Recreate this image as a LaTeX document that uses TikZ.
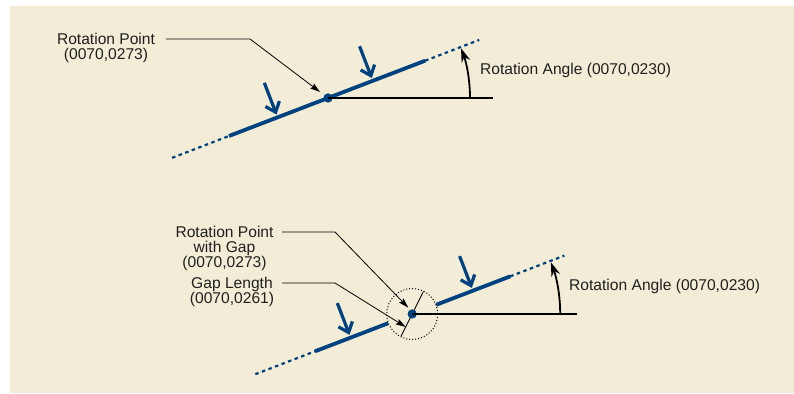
\documentclass[tikz,border=0pt]{standalone}
\usepackage{fontspec}
\setmainfont{Liberation Sans}
\usetikzlibrary{arrows.meta,calc}
\definecolor{bgcream}{RGB}{243,237,215}
\definecolor{beamblue}{RGB}{0,66,127}
\begin{document}
\begin{tikzpicture}[x=1pt,y=1pt,
  lbl/.style={inner sep=0pt,font=\fontsize{15.6}{15}\selectfont,align=center,text=black!88},
  beam/.style={draw=beamblue,line width=3.8pt},
  beamext/.style={draw=beamblue,line width=2.2pt,dash pattern=on 3.5pt off 3.5pt},
  load/.style={draw=beamblue,line width=3.2pt,-{Straight Barb[length=9pt,width=15pt,line width=3.2pt]}},
  leader/.style={draw=black,line width=0.8pt,-{Stealth[length=10pt,width=6pt,inset=1.5pt]}},
  refline/.style={draw=black,line width=1.3pt},
  anglearc/.style={draw=black,line width=1.8pt,-{Stealth[length=14pt,width=9pt]}},
  pivot/.style={circle,fill=beamblue,inner sep=0pt,minimum size=9pt},
  gapcircle/.style={draw=black,line width=1pt,dotted}]
\useasboundingbox (0,0) rectangle (794,393);
\fill[white] (0,0) rectangle (794,393);
\fill[bgcream] (10,0) rectangle (794,387);

% ---------- top diagram ----------
\node[pivot] (d1) at (328,295) {};
\coordinate (a1s) at ($(d1.center)+(201:167)$);
\coordinate (a1a) at ($(d1.center)+(201:106)$);
\coordinate (a1b) at ($(d1.center)+(21:104)$);
\coordinate (a1e) at ($(d1.center)+(21:162)$);
\draw[beamext] (a1s) -- (a1a);
\draw[beamext] (a1b) -- (a1e);
\draw[beam] (a1a) -- (a1b);
\node[pivot] at (d1.center) {};
\coordinate (h1) at (493,295);
\draw[refline] (d1.center) -- (h1);
\draw[anglearc] ($(d1.center)+(0:142)$) arc[start angle=0,end angle=20.5,radius=142];
\coordinate (t11) at ($(d1.center)+(201:54)+(111:3)$);
\coordinate (t12) at ($(d1.center)+(21:48)+(111:3)$);
\draw[load] ($(t11)+(111:34)$) -- (t11);
\draw[load] ($(t12)+(111:34)$) -- (t12);
\node[lbl] (rp1) at (106,345.5) {Rotation Point\\(0070,0273)};
\coordinate (rp1s) at (166,354);
\coordinate (rp1b) at (250,354);
\draw[leader] (rp1s) -- (rp1b) -- ($(d1.center)+(143:10)$);
\node[lbl,anchor=base west] (ra1) at (480,318) {Rotation Angle (0070,0230)};

% ---------- bottom diagram ----------
\node[pivot] (d2) at (412.2,79) {};
\coordinate (b1s) at ($(d2.center)+(201:168)$);
\coordinate (b1a) at ($(d2.center)+(201:104)$);
\coordinate (b1b) at ($(d2.center)+(201:25.7)$);
\coordinate (b2a) at ($(d2.center)+(21:25.7)$);
\coordinate (b2b) at ($(d2.center)+(21:105)$);
\coordinate (b2e) at ($(d2.center)+(21:163)$);
\draw[beamext] (b1s) -- (b1a);
\draw[beamext] (b2b) -- (b2e);
\draw[beam] (b1a) -- (b1b);
\draw[beam] (b2a) -- (b2b);
\draw[gapcircle] (d2.center) circle[radius=25.5];
\coordinate (g1) at ($(d2.center)+(63.5:25)$);
\coordinate (g2) at ($(d2.center)+(243.5:25)$);
\draw[black,line width=0.9pt] (g1) -- (g2);
\node[pivot] at (d2.center) {};
\coordinate (h2) at (577,79);
\draw[refline] (d2.center) -- (h2);
\draw[anglearc] ($(d2.center)+(0:148)$) arc[start angle=0,end angle=20.5,radius=148];
\coordinate (t21) at ($(d2.center)+(201:66)+(111:3)$);
\coordinate (t22) at ($(d2.center)+(21:65)+(111:3)$);
\draw[load] ($(t21)+(111:34)$) -- (t21);
\draw[load] ($(t22)+(111:34)$) -- (t22);
\node[lbl] (rp2) at (224.5,145) {Rotation Point\\with Gap\\(0070,0273)};
\coordinate (rp2s) at (282,161);
\coordinate (rp2b) at (335,161);
\draw[leader] (rp2s) -- (rp2b) -- ($(d2.center)+(122:7.5)$);
\node[lbl] (gl) at (232,101) {Gap Length\\(0070,0261)};
\coordinate (gls) at (282,110);
\coordinate (glb) at (335,110);
\draw[leader] (gls) -- (glb) -- ($(d2.center)+(243.5:14.5)$);
\node[lbl,anchor=base west] (ra2) at (569,102.3) {Rotation Angle (0070,0230)};
\end{tikzpicture}
\end{document}
